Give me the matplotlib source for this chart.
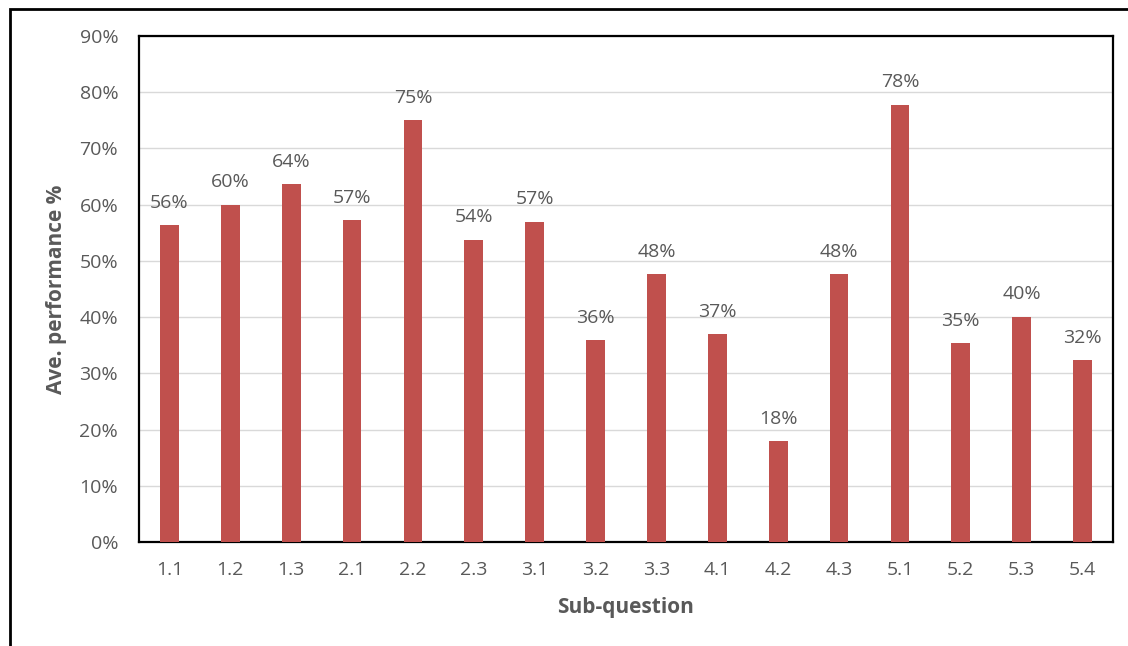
import matplotlib
matplotlib.use("Agg")
import matplotlib.pyplot as plt
from matplotlib.patches import Rectangle
from matplotlib.ticker import FuncFormatter, MultipleLocator

# Average performance per sub-question (%)
sub_questions = ["1.1", "1.2", "1.3", "2.1", "2.2", "2.3", "3.1", "3.2",
                 "3.3", "4.1", "4.2", "4.3", "5.1", "5.2", "5.3", "5.4"]
performance = [56.4, 60.0, 63.7, 57.3, 75.1, 53.8, 57.0, 35.9,
               47.7, 37.0, 18.0, 47.7, 77.8, 35.4, 40.1, 32.4]

bar_color = "#C0504D"
text_color = "#595959"
plt.rcParams["font.family"] = ["Open Sans", "DejaVu Sans"]

W, H = 1128, 646
fig = plt.figure(figsize=(W / 100, H / 100), dpi=100)
ax = fig.add_axes([139 / W, 1 - 542 / H, (1113 - 139) / W, (542 - 36) / H])

x = range(len(sub_questions))
bars = ax.bar(x, performance, width=0.31, color=bar_color, zorder=3)

for xi, v in zip(x, performance):
    ax.annotate(f"{v:.0f}%", (xi, v), xytext=(0, 9.5), textcoords="offset points",
                ha="center", va="bottom", fontsize=14, color=text_color)

ax.set_xlim(-0.5, len(sub_questions) - 0.5)
ax.set_ylim(0, 90)
ax.yaxis.set_major_locator(MultipleLocator(10))
ax.yaxis.set_major_formatter(FuncFormatter(lambda v, _: f"{v:.0f}%"))
ax.set_xticks(list(x))
ax.set_xticklabels(sub_questions)
ax.tick_params(axis="both", length=0, labelsize=14, labelcolor=text_color)
ax.tick_params(axis="y", pad=15)
ax.tick_params(axis="x", pad=14)
ax.grid(axis="y", color="#D9D9D9", linewidth=1, zorder=0)
ax.set_axisbelow(True)
for s in ax.spines.values():
    s.set_color("black")
    s.set_linewidth(1.6)

fig.text(57 / W, 1 - 289 / H, "Ave. performance %", rotation=90, ha="center",
         va="center", fontsize=15, fontweight="bold", color=text_color)
fig.text(626 / W, 1 - 607 / H, "Sub-question", ha="center", va="center",
         fontsize=15, fontweight="bold", color=text_color)

# Outer frame (right and bottom edges fall outside the canvas)
fig.patches.append(Rectangle((9.5 / W, -0.1), 1.2, 1.1 - 9.5 / H,
                             transform=fig.transFigure, fill=False,
                             edgecolor="black", linewidth=2.0))

fig.savefig("out.png", dpi=100)
